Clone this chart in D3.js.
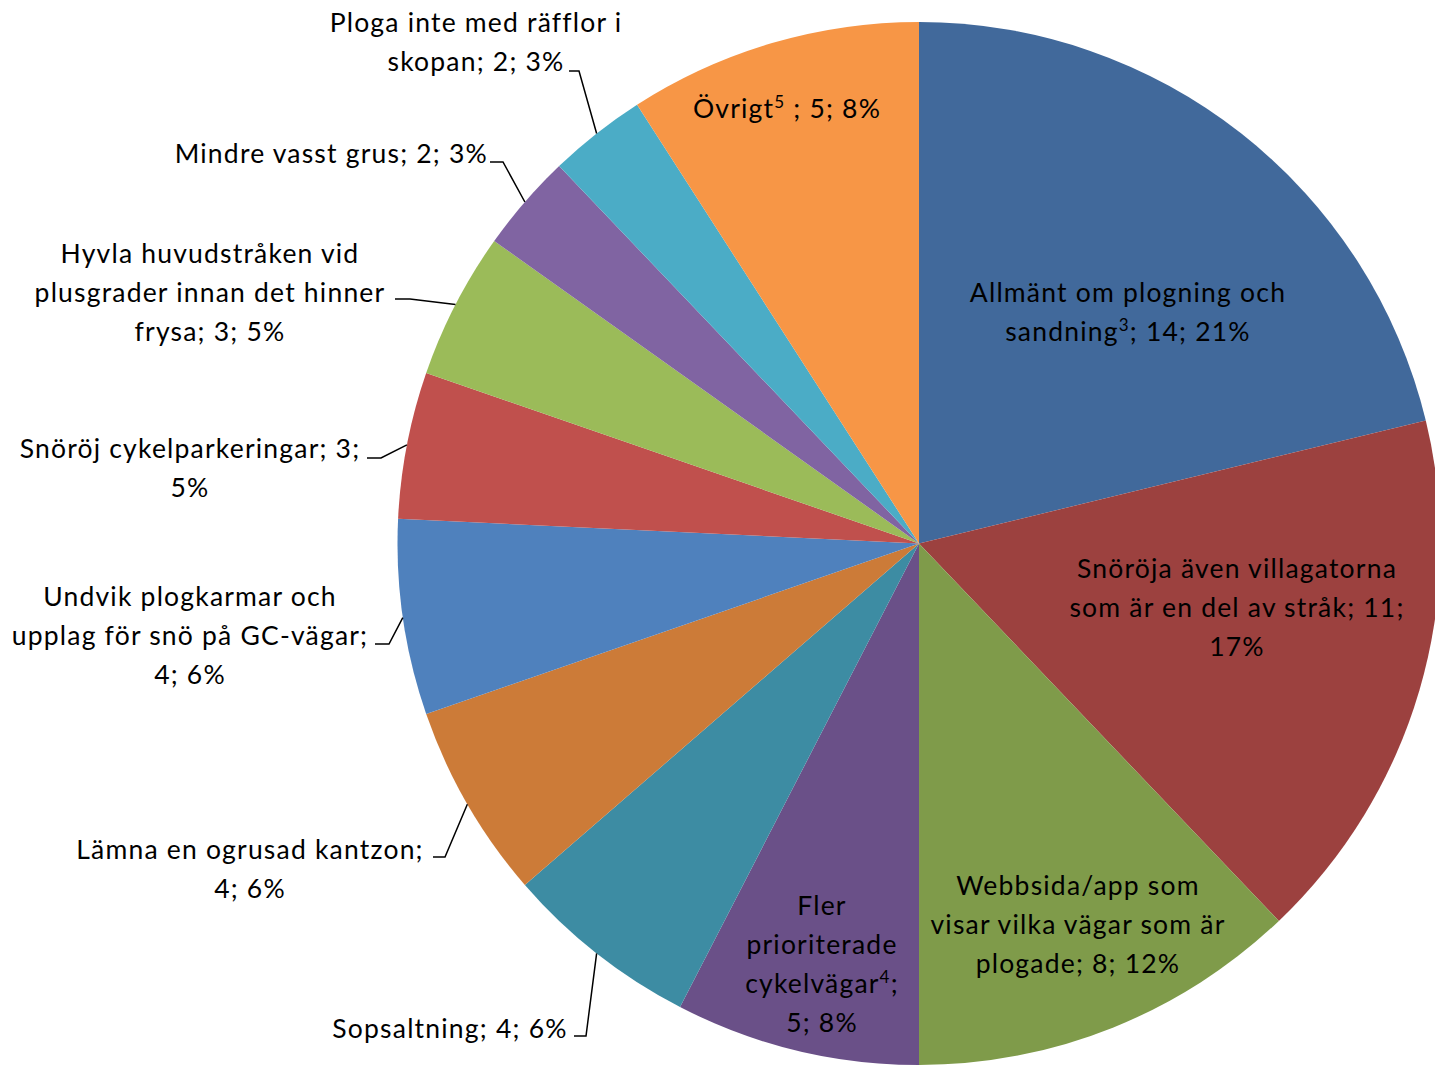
<!DOCTYPE html>
<html><head><meta charset="utf-8">
<script src="https://cdn.jsdelivr.net/npm/d3@7"></script>
<style>body{margin:0;background:#fff}svg{display:block}text{font-family:Lato,"Noto Sans",sans-serif;font-size:26.5px;letter-spacing:1.2px;fill:#000}</style>
</head><body>
<svg id="c" width="1435" height="1065"></svg>
<script>
// Data (clockwise from 12 o'clock)
const categories = ["Allmänt om plogning och sandning","Snöröja även villagatorna som är en del av stråk","Webbsida/app som visar vilka vägar som är plogade","Fler prioriterade cykelvägar","Sopsaltning","Lämna en ogrusad kantzon","Undvik plogkarmar och upplag för snö på GC-vägar","Snöröj cykelparkeringar","Hyvla huvudstråken vid plusgrader innan det hinner frysa","Mindre vasst grus","Ploga inte med räfflor i skopan","Övrigt"];
const values = [14, 11, 8, 5, 4, 4, 4, 3, 3, 2, 2, 6];
// label texts as printed ("^n" = superscript)
const labelLines = [
  ["Allmänt om plogning och","sandning^3; 14; 21%"],
  ["Snöröja även villagatorna","som är en del av stråk; 11;","17%"],
  ["Webbsida/app som","visar vilka vägar som är","plogade; 8; 12%"],
  ["Fler","prioriterade","cykelvägar^4;","5; 8%"],
  ["Sopsaltning; 4; 6%"],
  ["Lämna en ogrusad kantzon;","4; 6%"],
  ["Undvik plogkarmar och","upplag för snö på GC-vägar;","4; 6%"],
  ["Snöröj cykelparkeringar; 3;","5%"],
  ["Hyvla huvudstråken vid","plusgrader innan det hinner","frysa; 3; 5%"],
  ["Mindre vasst grus; 2; 3%"],
  ["Ploga inte med räfflor i","skopan; 2; 3%"],
  ["Övrigt^5 ; 5; 8%"]
];
const colors = ["#41699B","#9C413F","#7F9B4A","#6A5088","#3D8CA3","#CC7B38","#4F81BD","#C0504D","#9BBB59","#8064A2","#4BACC6","#F79646"];

// layout (positions only)
const W=1435,H=1065,cx=919,cy=543.5,R=521.5,LH=39;
const layout = [
  {x:1128,y:292,a:"middle"},
  {x:1237,y:568,a:"middle"},
  {x:1078,y:885,a:"middle"},
  {x:822,y:905,a:"middle"},
  {x:450,y:1028,a:"middle",lx:[574,586],ly:1036},
  {x:250,y:849,a:"middle",lx:[433,445],ly:857},
  {x:190,y:596,a:"middle",lx:[375,389],ly:644},
  {x:190,y:448,a:"middle",lx:[367,381],ly:458},
  {x:210,y:253,a:"middle",lx:[395,410],ly:299},
  {x:488,y:153,a:"end",lx:[490,503],ly:162},
  {x:476,y:22,a:"middle",lx:[569,579],ly:71},
  {x:787,y:108,a:"middle"}
];

const svg=d3.select("#c");
const g=svg.append("g").attr("transform",`translate(${cx},${cy})`);
const pie=d3.pie().sort(null).value(d=>d)(values);
const arc=d3.arc().innerRadius(0).outerRadius(R);
const edge=d3.arc().innerRadius(R).outerRadius(R);
g.selectAll("path.s").data(pie).join("path").attr("class","s")
  .attr("d",arc).attr("fill",(d,i)=>colors[i]);

// leader lines
pie.forEach((d,i)=>{
  const L=layout[i]; if(!L.lx) return;
  const p=edge.centroid(d);
  const pts=[[L.lx[0],L.ly],[L.lx[1],L.ly],[p[0]+cx,p[1]+cy]];
  svg.append("path").attr("d",d3.line()(pts)).attr("fill","none").attr("stroke","#000").attr("stroke-width",1.5);
});

// labels
labelLines.forEach((lines,i)=>{
  const L=layout[i];
  const t=svg.append("text").attr("text-anchor",L.a);
  lines.forEach((ln,j)=>{
    const ts=t.append("tspan").attr("x",L.x).attr("y",L.y+j*LH).attr("dy","0.36em");
    const parts=ln.split(/\^(\d)/);
    parts.forEach((p,k)=>{
      if(k%2===1){ts.append("tspan").attr("font-size","17px").attr("baseline-shift","super").text(p);}
      else if(p){ts.append("tspan").text(p);}
    });
  });
});
</script>
</body></html>
